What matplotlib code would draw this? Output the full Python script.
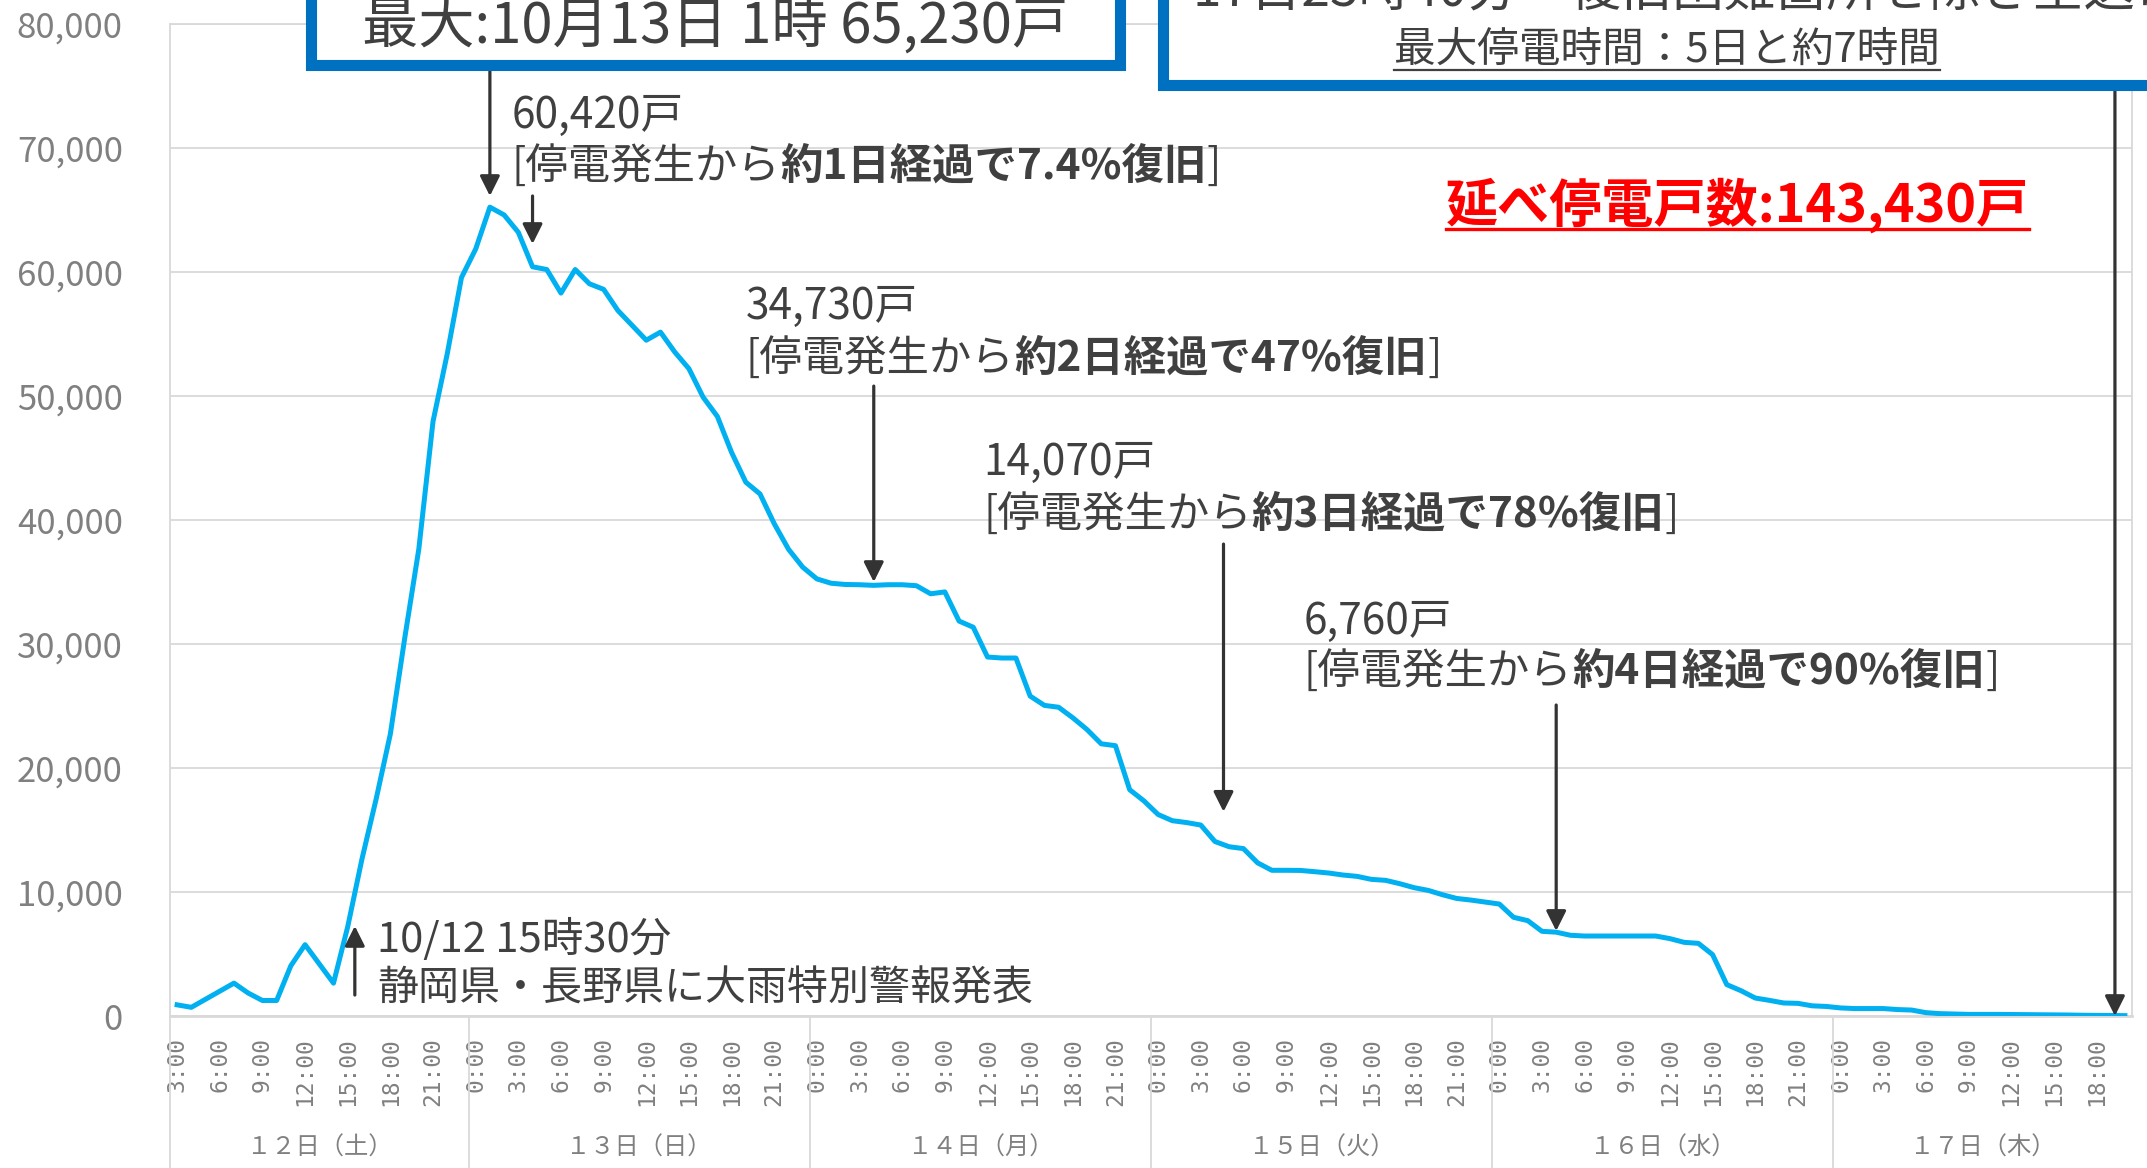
import matplotlib
matplotlib.use('Agg')
import matplotlib.pyplot as plt
import matplotlib.transforms as mtransforms
from matplotlib.patches import Rectangle
from matplotlib.lines import Line2D
from matplotlib.offsetbox import TextArea, HPacker, AnnotationBbox
import numpy as np

plt.rcParams['font.family'] = ['Noto Sans CJK JP', 'DejaVu Sans']

# ---------------- data (hourly outage households) ----------------
day12_hours = list(range(3, 24))
day12 = [900, 700, 1350, 2000, 2650, 1850, 1250, 1250, 4050, 5750, 4200, 2650,
         7200, 12650, 17500, 22750, 30400, 37650, 47950, 53400, 59550]
day13_hours = list(range(0, 24))
day13 = [61850, 65230, 64600, 63200, 60420, 60200, 58300, 60200, 59050, 58600,
         56900, 55700, 54500, 55150, 53550, 52200, 49900, 48350, 45450, 43050,
         42100, 39700, 37650, 36200]
day14_hours = list(range(0, 24))
day14 = [35250, 34900, 34800, 34780, 34730, 34780, 34780, 34700, 34050, 34200,
         31850, 31350, 28950, 28870, 28870, 25800, 25050, 24900, 24050, 23100,
         21950, 21800, 18250, 17350]
day15_hours = list(range(0, 24))
day15 = [16250, 15750, 15600, 15400, 14070, 13650, 13500, 12350, 11750, 11750,
         11740, 11640, 11530, 11370, 11260, 11020, 10940, 10670, 10350, 10130,
         9780, 9480, 9350, 9190]
day16_hours = list(range(0, 24))
day16 = [9030, 7960, 7690, 6830, 6760, 6510, 6450, 6450, 6450, 6450, 6450, 6450,
         6240, 5940, 5860, 4950, 2530, 2040, 1450, 1260, 1050, 1020, 820, 770]
day17_hours = list(range(0, 21))
day17 = [650, 600, 600, 600, 520, 480, 270, 190, 160, 130, 130, 130, 120, 110,
         100, 90, 80, 60, 50, 40, 30]

day_labels = ['１２日（土）', '１３日（日）', '１４日（月）', '１５日（火）',
              '１６日（水）', '１７日（木）']
y_ticks = [0, 10000, 20000, 30000, 40000, 50000, 60000, 70000, 80000]

# annotations: (category index, text value, bold part)
milestones = [
    (25, '60,420戸', '約1日経過で7.4%復旧'),
    (49, '34,730戸', '約2日経過で47%復旧'),
    (73, '14,070戸', '約3日経過で78%復旧'),
    (97, '6,760戸', '約4日経過で90%復旧'),
]
peak_text = '最大:10月13日 1時 65,230戸'
warn_text1 = '10/12 15時30分'
warn_text2 = '静岡県・長野県に大雨特別警報発表'
restore_text1 = '17日23時40分　復旧困難箇所を除き全送電'
restore_text2 = '最大停電時間：5日と約7時間'
total_text = '延べ停電戸数:143,430戸'

# ---------------- assemble ----------------
days = [day12, day13, day14, day15, day16, day17]
day_hours = [day12_hours, day13_hours, day14_hours, day15_hours, day16_hours, day17_hours]
values = np.array(sum(days, []), dtype=float)
hours = sum(day_hours, [])
n = len(values)
idx = np.arange(n)

W, H = 2147, 1168
fig = plt.figure(figsize=(W / 100, H / 100), dpi=100)
fx = lambda x: x / W
fy = lambda y: 1 - y / H

ax = fig.add_axes([fx(170), fy(1016), (2132 - 170) / W, (1016 - 24) / H])
ax.plot(idx, values, color='#00B0F0', lw=3.6, solid_joinstyle='round', zorder=3)
ax.set_xlim(-0.5, n - 0.5)
ax.set_ylim(0, 80000)
ax.set_yticks(y_ticks)
ax.set_yticklabels([f'{v:,}' for v in y_ticks], fontsize=25, color='#808080')
ax.tick_params(axis='y', length=0, pad=34)
tick_idx = [i for i, h in enumerate(hours) if h % 3 == 0]
ax.set_xticks(tick_idx)
ax.set_xticklabels([f'{hours[i]}:00' for i in tick_idx], rotation=90,
                   fontsize=16.5, color='#808080', family='DejaVu Sans Mono')
ax.tick_params(axis='x', length=0, pad=15)
ax.grid(axis='y', color='#d9d9d9', lw=1.3)
ax.set_axisbelow(True)
for s in ax.spines.values():
    s.set_color('#d9d9d9')
    s.set_linewidth(1.3)
ax.spines['bottom'].set_linewidth(2.0)

# day separators and labels
bt = mtransforms.blended_transform_factory(ax.transData, ax.transAxes)
bf = mtransforms.blended_transform_factory(ax.transData, fig.transFigure)
starts = np.cumsum([0] + [len(d) for d in days])
for k in range(len(days)):
    b = starts[k] - 0.5
    ax.add_line(Line2D([b, b], [0, -0.2], transform=bt, color='#d9d9d9', lw=1.3, clip_on=False))
    c = (starts[k] + starts[k + 1] - 1) / 2
    ax.text(c, fy(1148), day_labels[k], transform=bf, ha='center', va='center',
            fontsize=17.5, color='#808080')

# ---------------- arrows ----------------
AC = '#333333'
def arrow(x, y_tip, y_from):
    ax.annotate('', xy=(x, y_tip), xytext=(x, y_from), annotation_clip=False,
                arrowprops=dict(arrowstyle='-|>', color=AC, lw=2.3, mutation_scale=30,
                                shrinkA=0, shrinkB=0), zorder=4)

peak_i = int(np.argmax(values))
arrow(peak_i, values[peak_i] + 900, 76200)
arrow(milestones[0][0], values[milestones[0][0]] + 1840, 66130)
arrow(milestones[1][0], values[milestones[1][0]] + 270, 50800)
arrow(milestones[2][0] + 0.6, values[milestones[2][0]] + 2400, 38060)
arrow(milestones[3][0], values[milestones[3][0]] + 100, 25080)
arrow(12.5, 7260, 1690)
arrow(n - 1.7, 0, 74680)

# ---------------- texts ----------------
TC = '#404040'
def rich_line(x, y, parts, size):
    areas = [TextArea(t, textprops=dict(fontsize=size, color=TC,
                                        fontweight='bold' if bold else 'normal'))
             for t, bold in parts]
    pack = HPacker(children=areas, pad=0, sep=0, align='baseline')
    ab = AnnotationBbox(pack, (fx(x), fy(y)), xycoords='figure fraction',
                        box_alignment=(0, 0.5), frameon=False, pad=0, zorder=5)
    fig.add_artist(ab)

pos = [(512, 116, 167), (746, 307, 359), (983, 463, 515), (1304, 622, 672)]
for (i, vt, bt_), (x, y1, y2) in zip(milestones, pos):
    fig.text(fx(x), fy(y1), vt, ha='left', va='center', fontsize=30.5, color=TC)
    rich_line(x, y2, [('[停電発生から', False), (bt_, True), (']', False)], 30.5)

fig.text(fx(377), fy(939), warn_text1, ha='left', va='center', fontsize=30, color=TC)
fig.text(fx(377), fy(989), warn_text2, ha='left', va='center', fontsize=29.5, color=TC)

# boxes at the top
BLUE = '#0070C0'
fig.add_artist(Rectangle((fx(311), fy(65)), fx(1120) - fx(311), 0.3, transform=fig.transFigure,
                         facecolor='white', edgecolor=BLUE, lw=8, zorder=4))
fig.text(fx(715), fy(28), peak_text, ha='center', va='center', fontsize=40.5, color=TC, zorder=6)

fig.add_artist(Rectangle((fx(1163), fy(84.5)), 0.6, 0.3, transform=fig.transFigure,
                         facecolor='white', edgecolor=BLUE, lw=8, zorder=4))
fig.text(fx(1193), fy(-8), restore_text1, ha='left', va='center', fontsize=37, color=TC, zorder=6)
t_r2 = fig.text(fx(1667), fy(50), restore_text2, ha='center', va='center', fontsize=30,
                color=TC, zorder=6)

t_tot = fig.text(fx(1446), fy(205), total_text, ha='left', va='center', fontsize=37.5,
                 fontweight='bold', color='#FF0000', zorder=6)

fig.canvas.draw()
r = fig.canvas.get_renderer()
for t, yline, col, lw in [(t_r2, 70, TC, 1.6), (t_tot, 229, '#FF0000', 2.4)]:
    bb = t.get_window_extent(r)
    fig.add_artist(Line2D([bb.x0 / W, bb.x1 / W], [fy(yline), fy(yline)],
                          transform=fig.transFigure, color=col, lw=lw, zorder=6))

fig.savefig('out.png', dpi=100)
